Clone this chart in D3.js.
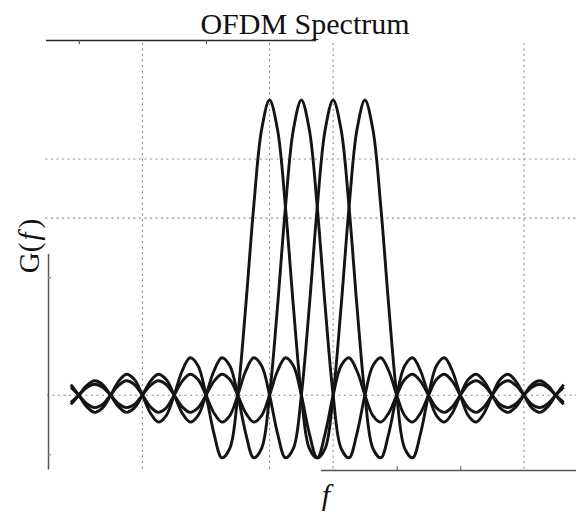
<!DOCTYPE html>
<html>
<head>
<meta charset="utf-8">
<script src="https://cdn.jsdelivr.net/npm/d3@7"></script>
<style>
  html, body { margin: 0; padding: 0; background: #fff; }
  svg { display: block; }
</style>
</head>
<body>
<svg id="chart" width="576" height="515"></svg>
<script>
// ---- data ----
const freq = [-6.25,-6,-5.75,-5.5,-5.25,-5,-4.75,-4.5,-4.25,-4,-3.75,-3.5,-3.25,-3,-2.75,-2.5,-2.25,-2,-1.75,-1.5,-1.25,-1,-0.75,-0.5,-0.25,0,0.25,0.5,0.75,1,1.25,1.5,1.75,2,2.25,2.5,2.75,3,3.25,3.5,3.75,4,4.25,4.5,4.75,5,5.25,5.5,5.75,6,6.25,6.5,6.75,7,7.25,7.5,7.75,8,8.25,8.5,8.75,9,9.25];

const carrier0 = [0.036,0,-0.039,-0.058,-0.043,0,0.047,0.071,0.053,0,-0.060,-0.091,-0.069,0,0.082,0.127,0.100,0,-0.129,-0.212,-0.180,0,0.300,0.637,0.900,1,
  0.900,0.637,0.300,0,-0.180,-0.212,-0.129,0,0.100,0.127,0.082,0,-0.069,-0.091,-0.060,0,0.053,0.071,0.047,0,-0.043,-0.058,-0.039,0,0.036,0.049,0.033,0,-0.031,-0.042,-0.029,0,0.027,0.037,0.026,0,-0.024];
const carrier1 = [-0.031,0,0.033,0.049,0.036,0,-0.039,-0.058,-0.043,0,0.047,0.071,0.053,0,-0.060,-0.091,-0.069,0,0.082,0.127,0.100,0,-0.129,-0.212,-0.180,0,0.300,0.637,0.900,1,
  0.900,0.637,0.300,0,-0.180,-0.212,-0.129,0,0.100,0.127,0.082,0,-0.069,-0.091,-0.060,0,0.053,0.071,0.047,0,-0.043,-0.058,-0.039,0,0.036,0.049,0.033,0,-0.031,-0.042,-0.029,0,0.027];
const carrier2 = [0.027,0,-0.029,-0.042,-0.031,0,0.033,0.049,0.036,0,-0.039,-0.058,-0.043,0,0.047,0.071,0.053,0,-0.060,-0.091,-0.069,0,0.082,0.127,0.100,0,-0.129,-0.212,-0.180,0,0.300,0.637,0.900,1,
  0.900,0.637,0.300,0,-0.180,-0.212,-0.129,0,0.100,0.127,0.082,0,-0.069,-0.091,-0.060,0,0.053,0.071,0.047,0,-0.043,-0.058,-0.039,0,0.036,0.049,0.033,0,-0.031];
const carrier3 = [-0.024,0,0.026,0.037,0.027,0,-0.029,-0.042,-0.031,0,0.033,0.049,0.036,0,-0.039,-0.058,-0.043,0,0.047,0.071,0.053,0,-0.060,-0.091,-0.069,0,0.082,0.127,0.100,0,-0.129,-0.212,-0.180,0,0.300,0.637,0.900,1,
  0.900,0.637,0.300,0,-0.180,-0.212,-0.129,0,0.100,0.127,0.082,0,-0.069,-0.091,-0.060,0,0.053,0.071,0.047,0,-0.043,-0.058,-0.039,0,0.036];

const series = [carrier0, carrier1, carrier2, carrier3];

// grid / tick positions visible in the scan
const xGridValues = [-4, 0, 2, 8];
const yGridValues = [0.6, 0.8];
const topTickValues = [-6, -2];
const bottomTickValues = [4, 6];
const leftTickValues = [-0.2, 0.4];

const titleText = "OFDM Spectrum";

// ---- scales ----
const svg = d3.select("#chart");
const x = d3.scaleLinear().domain([-7, 10]).range([47, 587.5]);
const y = d3.scaleLinear().domain([-0.25, 1.2]).range([469, 41]);

const gridStyle = sel => sel.attr("stroke", "#8a8a8a").attr("stroke-width", 1.1).attr("stroke-dasharray", "2,3.5");

// horizontal grid
svg.append("g").selectAll("line").data(yGridValues).join("line")
  .attr("x1", x(-7.05)).attr("x2", 576)
  .attr("y1", d => y(d)).attr("y2", d => y(d))
  .call(gridStyle);
// zero line
svg.append("line")
  .attr("x1", x(-7)).attr("x2", 576)
  .attr("y1", y(0)).attr("y2", y(0))
  .call(gridStyle);
// vertical grid
svg.append("g").selectAll("line").data(xGridValues).join("line")
  .attr("x1", d => x(d)).attr("x2", d => x(d))
  .attr("y1", y(1.2) + 2).attr("y2", y(-0.25))
  .call(gridStyle);

// ---- partial frame (as in the scan) ----
const xTopPart = d3.scaleLinear().domain([-7.05, 1.45]).range([x(-7.05), x(1.45)]);
const gTop = svg.append("g").attr("transform", `translate(0,${y(1.2) - 1})`)
  .call(d3.axisTop(xTopPart).tickValues(topTickValues).tickSizeInner(-4).tickSizeOuter(0).tickFormat(""));
gTop.select(".domain").attr("stroke", "#2a2a2a").attr("stroke-width", 1.6);
gTop.selectAll(".tick line").attr("stroke", "#555").attr("stroke-width", 1.2);

const xBottomPart = d3.scaleLinear().domain([1.6, 10]).range([x(1.6), x(10)]);
const gBot = svg.append("g").attr("transform", `translate(0,${y(-0.25) + 1})`)
  .call(d3.axisBottom(xBottomPart).tickValues(bottomTickValues).tickSizeInner(-4).tickSizeOuter(0).tickFormat(""));
gBot.select(".domain").attr("stroke", "#555").attr("stroke-width", 1.5);
gBot.selectAll(".tick line").attr("stroke", "#777").attr("stroke-width", 1.2);

const yLeftPart = d3.scaleLinear().domain([-0.25, 0.48]).range([y(-0.25), y(0.48)]);
const gLeft = svg.append("g").attr("transform", `translate(${x(-7) + 1},0)`)
  .call(d3.axisLeft(yLeftPart).tickValues(leftTickValues).tickSizeInner(-3).tickSizeOuter(0).tickFormat(""));
gLeft.select(".domain").attr("stroke", "#555").attr("stroke-width", 1.5);
gLeft.selectAll(".tick line").attr("stroke", "#888").attr("stroke-width", 1.2);

// ---- curves ----
const line = d3.line()
  .x((d, i) => x(freq[i]))
  .y(d => y(d))
  .curve(d3.curveCatmullRom.alpha(0.5));

svg.append("g").selectAll("path").data(series).join("path")
  .attr("d", line)
  .attr("fill", "none")
  .attr("stroke", "#141414")
  .attr("stroke-width", 2.9)
  .attr("stroke-linejoin", "round")
  .attr("stroke-linecap", "butt");

// ---- texts ----
svg.append("text")
  .attr("x", 305).attr("y", 34)
  .attr("text-anchor", "middle")
  .attr("font-family", "'Liberation Serif', 'DejaVu Serif', serif")
  .attr("font-size", 30)
  .attr("fill", "#111")
  .text(titleText);

const yl = svg.append("text")
  .attr("transform", "translate(39,246) rotate(-90)")
  .attr("text-anchor", "middle")
  .attr("font-family", "'Liberation Serif', 'DejaVu Serif', serif")
  .attr("font-size", 29)
  .attr("fill", "#111");
yl.append("tspan").text("G(");
yl.append("tspan").attr("font-style", "italic").attr("dx", 2).text("f");
yl.append("tspan").attr("dx", 4).text(")");

svg.append("text")
  .attr("x", 326).attr("y", 505)
  .attr("text-anchor", "middle")
  .attr("font-family", "'Liberation Serif', 'DejaVu Serif', serif")
  .attr("font-style", "italic")
  .attr("font-size", 30)
  .attr("fill", "#111")
  .text("f");
</script>
</body>
</html>
